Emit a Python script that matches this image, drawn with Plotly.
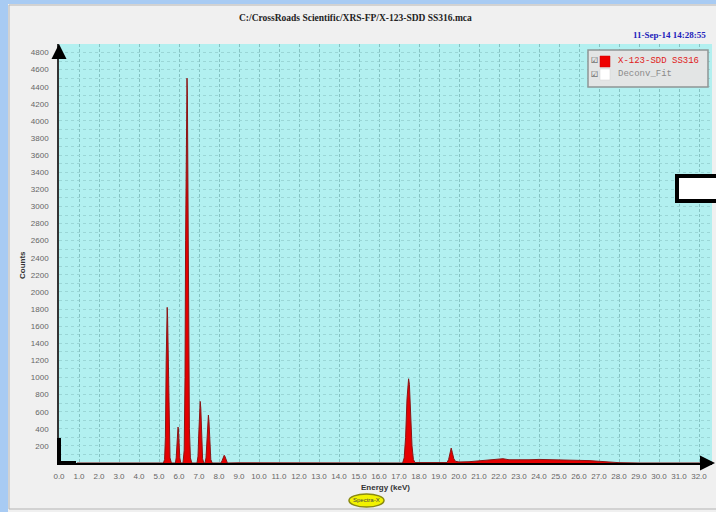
import plotly.graph_objects as go

# ---------------- data ----------------
energy_kev = [
    0.90, 5.22, 5.28, 5.32, 5.36, 5.39, 5.41, 5.43, 5.46, 5.50, 5.55, 5.62,
    5.82, 5.86, 5.90, 5.93, 5.95, 5.97, 6.00, 6.04, 6.09,
    6.20, 6.26, 6.30, 6.33, 6.36, 6.39, 6.40, 6.42, 6.45, 6.48, 6.52, 6.57, 6.64,
    6.90, 6.95, 6.99, 7.03, 7.06, 7.09, 7.13, 7.18, 7.24,
    7.30, 7.35, 7.40, 7.44, 7.47, 7.50, 7.54, 7.59, 7.66,
    8.10, 8.16, 8.22, 8.26, 8.30, 8.36, 8.42, 9.00,
    12.0, 15.0, 17.18, 17.26, 17.33, 17.40, 17.45, 17.48, 17.52, 17.58, 17.65, 17.72, 17.80, 18.2,
    19.0, 19.40, 19.48, 19.55, 19.61, 19.67, 19.74, 19.82, 19.90, 20.0,
    20.5, 21.0, 21.5, 22.0, 22.2, 22.5, 23.0, 23.5, 24.0, 24.5, 25.0, 25.5,
    26.0, 26.5, 27.0, 27.5, 28.0, 29.0, 32.6,
]
counts = [
    0, 0, 40, 300, 1200, 1700, 1820, 1700, 1200, 400, 60, 0,
    0, 60, 250, 400, 420, 400, 250, 60, 0,
    0, 150, 1000, 2600, 3900, 4450, 4500, 4300, 3200, 1600, 400, 60, 0,
    0, 80, 350, 650, 720, 640, 300, 50, 0,
    0, 60, 300, 520, 560, 480, 220, 40, 0,
    0, 30, 80, 90, 75, 25, 0, 2,
    3, 3, 0, 60, 300, 750, 960, 985, 920, 600, 200, 40, 5, 5,
    5, 5, 40, 140, 175, 120, 50, 20, 15, 12,
    15, 25, 35, 45, 50, 38, 35, 38, 42, 40, 38, 35,
    32, 28, 20, 10, 4, 0, 0,
]
y_tick_values = list(range(200, 4801, 200))
series_name = "X-123-SDD SS316"
fit_name = "Deconv_Fit"
chart_title = "C:/CrossRoads Scientific/XRS-FP/X-123-SDD SS316.mca"
timestamp = "11-Sep-14 14:28:55"

# ---------------- layout helpers (pixel -> paper) ----------------
W, H = 716, 512
L, T, R, B = 59, 44, 712, 463


def px(x):
    return (x - L) / (R - L)


def py(y):
    return (B - y) / (B - T)


fig = go.Figure()
fig.add_trace(go.Scatter(
    x=energy_kev, y=counts, mode="lines", name=series_name,
    fill="tozeroy", fillcolor="#e40000",
    line=dict(color="#8a1515", width=1), showlegend=False,
))

tickfont = dict(family="Liberation Sans", size=8, color="#666666")

fig.update_xaxes(
    range=[0, 32.65], dtick=1, tick0=0, tickformat=".1f",
    showgrid=True, gridcolor="#84c2c2", griddash="3px,2px", gridwidth=1,
    showline=True, linecolor="#000000", linewidth=2, zeroline=False,
    ticks="", tickfont=tickfont, ticklabelstandoff=4,
)
fig.update_yaxes(
    range=[0, 4900], tickvals=y_tick_values,
    showgrid=True, gridcolor="#9ad6d6", griddash="dot", gridwidth=1,
    minor=dict(dtick=100, tick0=0, showgrid=True, gridcolor="#9ad6d6", griddash="dot"),
    showline=True, linecolor="#333333", linewidth=1.5, zeroline=False,
    ticks="", tickfont=tickfont, ticklabelstandoff=7,
)

shapes = [
    # blue window strips and panel border
    dict(type="rect", xref="paper", yref="paper", x0=px(-5), x1=px(8), y0=py(-5), y1=py(520),
         fillcolor="#a8cbf3", line=dict(width=0), layer="below"),
    dict(type="rect", xref="paper", yref="paper", x0=px(-5), x1=px(720), y0=py(-5), y1=py(4),
         fillcolor="#a8cbf3", line=dict(width=0), layer="below"),
    dict(type="rect", xref="paper", yref="paper", x0=px(9), x1=px(722), y0=py(5), y1=py(509),
         fillcolor="rgba(0,0,0,0)", line=dict(color="#b4b4b4", width=1)),
    # thick corner of axes
    dict(type="line", xref="paper", yref="paper", x0=px(L), x1=px(L), y0=py(B), y1=py(438),
         line=dict(color="#000000", width=4)),
    dict(type="line", xref="paper", yref="paper", x0=px(L - 1), x1=px(76), y0=py(B), y1=py(B),
         line=dict(color="#000000", width=4)),
    # legend box
    dict(type="rect", xref="paper", yref="paper", x0=px(588), x1=px(708), y0=py(50), y1=py(87),
         fillcolor="#e3e5e5", line=dict(color="#8f9595", width=1.5)),
    dict(type="rect", xref="paper", yref="paper", x0=px(600), x1=px(610), y0=py(56), y1=py(67),
         fillcolor="#ee0000", line=dict(color="#cc0000", width=0.5)),
    dict(type="rect", xref="paper", yref="paper", x0=px(600), x1=px(610), y0=py(69), y1=py(80),
         fillcolor="#ffffff", line=dict(color="#d0d0d0", width=0.5)),
    # white box artifact
    dict(type="rect", xref="paper", yref="paper", x0=px(677), x1=px(722), y0=py(176), y1=py(201),
         fillcolor="#ffffff", line=dict(color="#000000", width=4)),
    # Spectra-X button
    dict(type="circle", xref="paper", yref="paper", x0=px(349), x1=px(384), y0=py(494), y1=py(507),
         fillcolor="#f2f200", line=dict(color="#8a8a10", width=1.5)),
]

annotations = [
    dict(text=f"<b>{chart_title}</b>", x=px(355), y=py(18), xanchor="center", yanchor="middle",
         font=dict(family="Liberation Serif", size=9.5, color="#222222")),
    dict(text=f"<b>{timestamp}</b>", x=px(708), y=py(35), xanchor="right", yanchor="middle",
         font=dict(family="Liberation Serif", size=9, color="#2222bb")),
    dict(text="<b>Counts</b>", x=px(22), y=py(265), xanchor="center", yanchor="middle", textangle=-90,
         font=dict(family="Liberation Sans", size=8, color="#333333")),
    dict(text="<b>Energy (keV)</b>", x=px(385), y=py(487), xanchor="center", yanchor="middle",
         font=dict(family="Liberation Sans", size=8, color="#333333")),
    dict(text="Spectra-X", x=px(366.5), y=py(500.5), xanchor="center", yanchor="middle",
         font=dict(family="Liberation Sans", size=6, color="#444444")),
    dict(text="☑", x=px(594), y=py(61), xanchor="center", yanchor="middle",
         font=dict(family="DejaVu Sans", size=8, color="#444444")),
    dict(text="☑", x=px(594), y=py(74), xanchor="center", yanchor="middle",
         font=dict(family="DejaVu Sans", size=8, color="#444444")),
    dict(text=series_name, x=px(616), y=py(61), xanchor="left", yanchor="middle",
         font=dict(family="Liberation Mono", size=9, color="#e02020")),
    dict(text=fit_name, x=px(616), y=py(74), xanchor="left", yanchor="middle",
         font=dict(family="Liberation Mono", size=9, color="#8a8a8a")),
    # axis arrows
    dict(text="", xref="x", yref="y", x=0, y=4900, showarrow=True, arrowhead=2, arrowsize=1,
         arrowwidth=3, arrowcolor="#000000", ax=0, ay=16),
    dict(text="", xref="paper", yref="y", x=px(715), y=0, showarrow=True, arrowhead=2, arrowsize=1,
         arrowwidth=3, arrowcolor="#000000", ax=-16, ay=0),
]
for a in annotations:
    a.setdefault("xref", "paper")
    a.setdefault("yref", "paper")
    a.setdefault("showarrow", False)

fig.update_layout(
    width=W, height=H,
    margin=dict(l=L, r=W - R, t=T, b=H - B, autoexpand=False),
    paper_bgcolor="#f0f0f0", plot_bgcolor="#b2f0f0",
    shapes=shapes, annotations=annotations, showlegend=False,
)

fig.write_html("out.html")
